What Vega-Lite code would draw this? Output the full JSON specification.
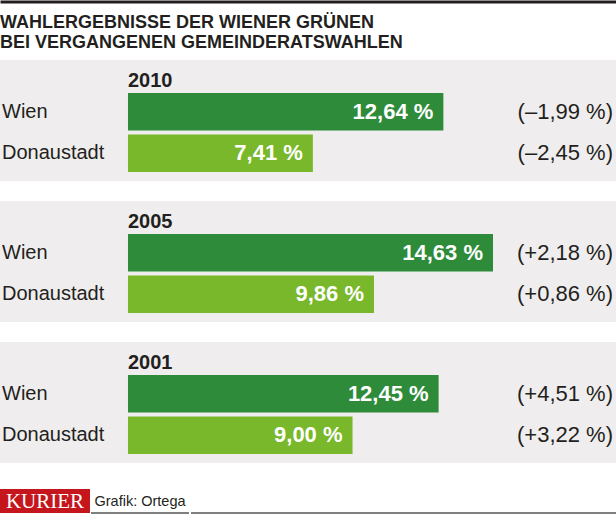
{
  "$schema": "https://vega.github.io/schema/vega-lite/v6.json",
  "padding": 0,
  "background": "#ffffff",
  "spacing": 26,
  "config": {
    "view": {"stroke": null},
    "font": "Liberation Sans",
    "text": {"font": "Liberation Sans", "color": "#231f20"}
  },
  "datasets": {
    "years": [
      {"year": "2010"},
      {"year": "2005"},
      {"year": "2001"}
    ],
    "results": [
      {"year": "2010", "region": "Wien", "value": 12.64, "label": "12,64 %", "change": "(–1,99 %)"},
      {"year": "2010", "region": "Donaustadt", "value": 7.41, "label": "7,41 %", "change": "(–2,45 %)"},
      {"year": "2005", "region": "Wien", "value": 14.63, "label": "14,63 %", "change": "(+2,18 %)"},
      {"year": "2005", "region": "Donaustadt", "value": 9.86, "label": "9,86 %", "change": "(+0,86 %)"},
      {"year": "2001", "region": "Wien", "value": 12.45, "label": "12,45 %", "change": "(+4,51 %)"},
      {"year": "2001", "region": "Donaustadt", "value": 9.0, "label": "9,00 %", "change": "(+3,22 %)"}
    ]
  },
  "vconcat": [
    {
      "width": 616,
      "height": 463,
      "title": {
        "text": ["WAHLERGEBNISSE DER WIENER GRÜNEN", "BEI VERGANGENEN GEMEINDERATSWAHLEN"],
        "anchor": "start",
        "frame": "group",
        "offset": -66,
        "baseline": "alphabetic",
        "fontSize": 18,
        "fontWeight": "bold",
        "font": "Liberation Sans",
        "color": "#231f20",
        "lineHeight": 20
      },
      "layer": [
        {
          "data": {"name": "years"},
          "mark": {"type": "rect", "color": "#efeded"},
          "encoding": {
            "y": {"field": "year", "type": "nominal", "scale": {"domain": ["2010", "2005", "2001"], "range": [60, 463], "paddingInner": 0.14184, "paddingOuter": 0}, "axis": null}
          }
        },
        {
          "data": {"name": "results"},
          "mark": {"type": "bar"},
          "encoding": {
            "y": {"field": "year", "type": "nominal", "scale": {"domain": ["2010", "2005", "2001"], "range": [60, 463], "paddingInner": 0.14184, "paddingOuter": 0}, "axis": null},
            "yOffset": {"field": "region", "type": "nominal", "scale": {"domain": ["Wien", "Donaustadt"], "paddingInner": 0.1, "paddingOuter": 0.505, "align": 0.786}},
            "x": {"field": "value", "type": "quantitative", "scale": {"domain": [-5.13, 19.56], "nice": false, "zero": false},
                  "axis": {"orient": "top", "offset": -1.5, "domainWidth": 3, "domainColor": "#231f20", "labels": false, "ticks": false, "grid": false, "title": null}},
            "color": {"field": "region", "type": "nominal", "scale": {"domain": ["Wien", "Donaustadt"], "range": ["#2d8b3a", "#78b82a"]}, "legend": null}
          }
        },
        {
          "data": {"name": "results"},
          "mark": {"type": "text", "align": "right", "dx": -10, "baseline": "middle", "color": "#ffffff", "fontWeight": "bold", "fontSize": 22},
          "encoding": {
            "y": {"field": "year", "type": "nominal"},
            "yOffset": {"field": "region", "type": "nominal"},
            "x": {"field": "value", "type": "quantitative"},
            "text": {"field": "label"}
          }
        },
        {
          "data": {"name": "results"},
          "mark": {"type": "text", "align": "left", "dx": 2, "baseline": "middle", "fontSize": 20},
          "encoding": {
            "y": {"field": "year", "type": "nominal"},
            "yOffset": {"field": "region", "type": "nominal"},
            "x": {"value": 0},
            "text": {"field": "region"}
          }
        },
        {
          "data": {"name": "results"},
          "mark": {"type": "text", "align": "right", "dx": -3, "baseline": "middle", "fontSize": 22},
          "encoding": {
            "y": {"field": "year", "type": "nominal"},
            "yOffset": {"field": "region", "type": "nominal"},
            "x": {"value": "width"},
            "text": {"field": "change"}
          }
        },
        {
          "data": {"name": "years"},
          "mark": {"type": "text", "align": "left", "baseline": "alphabetic", "dy": -33.8, "fontSize": 20, "fontWeight": "bold"},
          "encoding": {
            "y": {"field": "year", "type": "nominal"},
            "x": {"datum": 0, "type": "quantitative"},
            "text": {"field": "year"}
          }
        }
      ]
    },
    {
      "spacing": 0,
      "hconcat": [
        {
          "width": 90,
          "height": 24,
          "view": {"fill": "#c5161d", "stroke": null},
          "data": {"values": [{"t": "KURIER"}]},
          "mark": {"type": "text", "font": "Liberation Serif", "fontSize": 21, "color": "#ffffff", "baseline": "middle", "dy": 1},
          "encoding": {"text": {"field": "t"}}
        },
        {
          "width": 98,
          "height": 24,
          "data": {"values": [{"t": "Grafik: Ortega"}]},
          "layer": [
            {
              "mark": {"type": "text", "font": "Liberation Sans", "fontSize": 14.5, "baseline": "middle", "dy": 1},
              "encoding": {"text": {"field": "t"}}
            },
            {
              "mark": {"type": "rule", "color": "#555555", "strokeWidth": 1.5},
              "encoding": {"y": {"value": "height"}}
            }
          ]
        },
        {
          "width": 428,
          "height": 24,
          "data": {"values": [{"t": ""}]},
          "mark": {"type": "rule", "color": "#555555", "strokeWidth": 1.5},
          "encoding": {"y": {"value": "height"}}
        }
      ]
    }
  ]
}
